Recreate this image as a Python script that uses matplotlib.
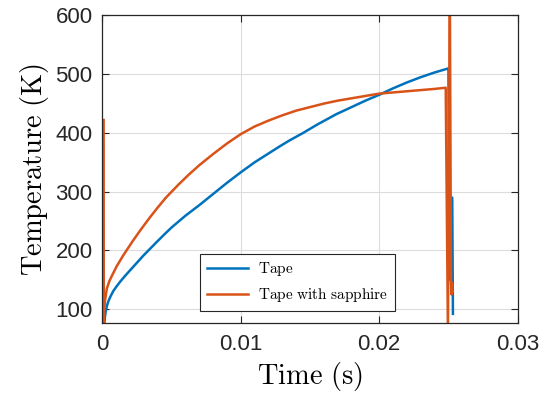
import matplotlib
matplotlib.use("Agg")
import matplotlib.pyplot as plt

# ---- data ----
tape_t = [0.00015, 0.0002, 0.00025, 0.00033, 0.00045, 0.0006, 0.0008, 0.00104, 0.0013,
          0.00162, 0.0020, 0.0025, 0.0030, 0.0035, 0.0040, 0.0046, 0.0050, 0.0055,
          0.0060, 0.0065, 0.0070, 0.0080, 0.0090, 0.0100, 0.0110, 0.0120, 0.0128,
          0.0135, 0.0145, 0.0155, 0.0169, 0.0180, 0.0190, 0.0200, 0.0210, 0.0220,
          0.0230, 0.0240, 0.02500, 0.02503, 0.02527, 0.02532]
tape_T = [76, 88, 96, 105, 114, 122, 131, 139, 147,
          156, 166, 179, 192, 204, 216, 230, 239, 249,
          259, 268, 277, 296, 315, 333, 350, 365, 377,
          387, 400, 414, 432, 444, 455, 465, 476, 486,
          495, 503, 510, 150, 290, 92]

sapph_t = [0.0001, 0.00011, 0.00013, 0.0002, 0.00033, 0.0005, 0.00068, 0.00104, 0.0015,
           0.0022, 0.0028, 0.0034, 0.0040, 0.0046, 0.0055, 0.0062, 0.0070, 0.0080,
           0.0090, 0.0100, 0.0110, 0.0120, 0.0130, 0.0140, 0.0150, 0.0160, 0.0170,
           0.0180, 0.0190, 0.0200, 0.0210, 0.0220, 0.0230, 0.0240, 0.0248,
           0.02496, 0.02510, 0.02518, 0.02522, 0.02526, 0.02530]
sapph_T = [422, 76, 95, 115, 135, 147, 156, 173, 191,
           216, 236, 255, 273, 290, 312, 328, 345, 364,
           382, 398, 411, 421, 430, 438, 444, 450, 455,
           459, 463, 467, 469, 471, 473, 475, 477,
           60, 640, 150, 125, 145, 130]

labels = ["Tape", "Tape with sapphire"]
xticks = [0, 0.01, 0.02, 0.03]
xticklabels = ["0", "0.01", "0.02", "0.03"]
yticks = [100, 200, 300, 400, 500, 600]

plt.rcParams["mathtext.fontset"] = "cm"
plt.rcParams["font.family"] = ["Liberation Sans", "DejaVu Sans"]

fig = plt.figure(figsize=(5.41, 3.96), dpi=100)
ax = fig.add_axes([0.189, 0.1836, 0.768, 0.7773])

ax.plot(tape_t, tape_T, color="#0072BD", lw=1.8, label=r"$\mathrm{Tape}$")
ax.plot(sapph_t, sapph_T, color="#D95319", lw=1.8,
        label=r"$\mathrm{Tape\ with\ sapphire}$")

ax.set_xlim(0, 0.03)
ax.set_ylim(76, 600)
ax.set_xticks(xticks)
ax.set_xticklabels(xticklabels)
ax.set_yticks(yticks)

ax.grid(True, color="#dcdcdc", lw=0.8)
ax.set_axisbelow(True)
for s in ax.spines.values():
    s.set_color("#262626")
    s.set_linewidth(0.9)
    s.set_zorder(3)
ax.tick_params(direction="in", length=5, width=0.8, colors="#262626",
               labelsize=16, top=True, right=True)
ax.tick_params(axis="x", pad=8)
ax.tick_params(axis="y", pad=7)

ax.set_xlabel(r"$\mathrm{Time\ (s)}$", fontsize=20.5, labelpad=3)
ax.set_ylabel(r"$\mathrm{Temperature\ (K)}$", fontsize=20.5, labelpad=3)

leg = ax.legend(loc="lower left", bbox_to_anchor=(0.235, 0.04), fontsize=11,
                fancybox=False, framealpha=1, edgecolor="#262626",
                handlelength=2.7, handletextpad=0.65, borderpad=0.45,
                labelspacing=0.5, borderaxespad=0)
leg.get_frame().set_linewidth(0.8)

fig.savefig("out.png", dpi=100)
